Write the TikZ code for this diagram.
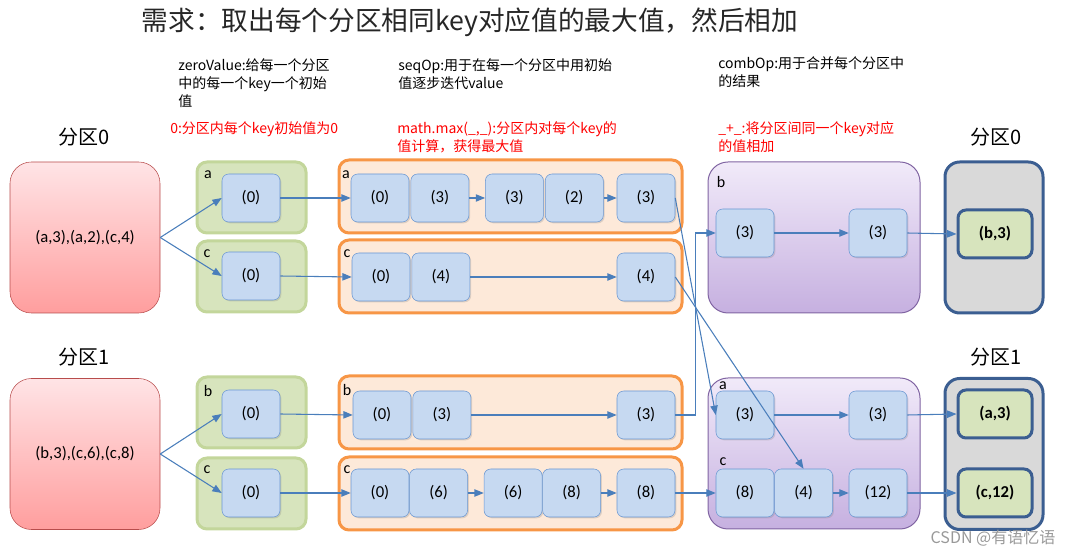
\documentclass[tikz,border=0pt]{standalone}
\usepackage{fontspec}
\setmainfont{Carlito}
\newfontfamily\cjk{Noto Sans CJK SC}
\usetikzlibrary{shadows, arrows.meta, positioning}
\definecolor{valFill}{HTML}{C6D9F1}
\definecolor{valLine}{HTML}{6A97D2}
\definecolor{arrowBlue}{HTML}{4A7EBB}
\definecolor{zeroFill}{HTML}{D7E4BD}
\definecolor{zeroLine}{HTML}{C3D69B}
\definecolor{seqFill}{HTML}{FDE9D9}
\definecolor{seqLine}{HTML}{F79646}
\definecolor{combLine}{HTML}{8064A2}
\definecolor{combTop}{HTML}{F1EAF9}
\definecolor{combBottom}{HTML}{C6B0E0}
\definecolor{inTop}{HTML}{FFE4E6}
\definecolor{inBottom}{HTML}{FF9E9E}
\definecolor{resLine}{HTML}{3B5E91}
\definecolor{noteRed}{HTML}{FF0000}
\newcommand{\valFontSize}{\fontsize{12.5}{15}\selectfont}
\tikzstyle{val}=[draw=valLine, fill=valFill, rounded corners=5pt, minimum width=43.5pt, minimum height=36pt, inner sep=0pt, font=\valFontSize, drop shadow={shadow xshift=1pt, shadow yshift=-1pt, opacity=0.25}]
\tikzstyle{input}=[draw=red!60!black!70, top color=inTop, bottom color=inBottom, rounded corners=16pt, minimum width=112.5pt, minimum height=113.25pt, font=\valFontSize]
\tikzstyle{zeroGroup}=[draw=zeroLine, fill=zeroFill, line width=2.25pt, rounded corners=7.5pt, minimum width=81.75pt, minimum height=53.25pt]
\tikzstyle{seqGroup}=[draw=seqLine, fill=seqFill, line width=2.25pt, rounded corners=7.5pt, minimum width=257.25pt, minimum height=54.75pt]
\tikzstyle{combGroup}=[draw=combLine, top color=combTop, bottom color=combBottom, line width=0.75pt, rounded corners=15pt, minimum width=159pt, minimum height=113.25pt]
\tikzstyle{resGroup}=[draw=resLine, fill=black!15, line width=2.25pt, rounded corners=11pt, minimum width=73.5pt, minimum height=113.25pt]
\tikzstyle{result}=[draw=resLine, fill=zeroFill, line width=2.25pt, rounded corners=6pt, minimum width=55.5pt, minimum height=36pt, inner sep=0pt, font=\valFontSize\bfseries]
\tikzstyle{keyLabel}=[inner sep=0pt, font=\fontsize{12}{14}\selectfont]
\tikzstyle{partLabel}=[inner sep=0pt, font=\cjk\fontsize{15}{18}\selectfont]
\tikzstyle{note}=[anchor=north west, inner sep=0pt, align=left, font=\cjk\fontsize{10.5}{13.5}\selectfont]
\tikzstyle{arrow}=[draw=arrowBlue, line width=0.8pt, -{Triangle[length=7pt, width=5.5pt]}]

\begin{document}
\begin{tikzpicture}[x=0.75pt, y=-0.75pt]
  \useasboundingbox (0,0) rectangle (1076,555);

  % heading and notes
  \node[inner sep=0pt, font=\cjk\fontsize{20}{24}\selectfont, text=black!85] (title) at (470,22) {需求：取出每个分区相同key对应值的最大值，然后相加};
  \node[note] (zeroNote) at (178,58) {zeroValue:给每一个分区\\中的每一个key一个初始\\值};
  \node[note] (seqNote) at (398,58) {seqOp:用于在每一个分区中用初始\\值逐步迭代value};
  \node[note] (combNote) at (718,56) {combOp:用于合并每个分区中\\的结果};
  \node[note, text=noteRed] (zeroRule) at (170,121) {0:分区内每个key初始值为0};
  \node[note, text=noteRed] (seqRule) at (397,121) {math.max(\_,\_):分区内对每个key的\\值计算，获得最大值};
  \node[note, text=noteRed] (combRule) at (718,121) {\_+\_:将分区间同一个key对应\\的值相加};
  \node[partLabel] (inLabelA) at (84,137) {分区0};
  \node[partLabel] (inLabelB) at (84,357) {分区1};
  \node[partLabel] (outLabelA) at (996,137) {分区0};
  \node[partLabel] (outLabelB) at (996,357) {分区1};

  % input partitions
  \node[input] (p0) at (85,237.5) {(a,3),(a,2),(c,4)};
  \node[input] (p1) at (85,454) {(b,3),(c,6),(c,8)};

  % zeroValue
  \node[zeroGroup] (z0aBox) at (251.5,197.5) {};
  \node[zeroGroup] (z0cBox) at (251.5,276.5) {};
  \node[zeroGroup] (z1bBox) at (251.5,412.5) {};
  \node[zeroGroup] (z1cBox) at (251.5,493.5) {};
  \node[keyLabel] (z0aKey) at (208,175) {a};
  \node[keyLabel] (z0cKey) at (207,254) {c};
  \node[keyLabel] (z1bKey) at (208,391) {b};
  \node[keyLabel] (z1cKey) at (207,470) {c};
  \node[val] (z0a) at (251,198) {(0)};
  \node[val] (z0c) at (251,276) {(0)};
  \node[val] (z1b) at (251,414) {(0)};
  \node[val] (z1c) at (251,493) {(0)};

  % seqOp
  \node[seqGroup] (s0aBox) at (510.5,196.5) {};
  \node[seqGroup] (s0cBox) at (510.5,276.5) {};
  \node[seqGroup] (s1bBox) at (510.5,412.5) {};
  \node[seqGroup] (s1cBox) at (510.5,493.5) {};
  \node[keyLabel] (s0aKey) at (346,175) {a};
  \node[keyLabel] (s0cKey) at (347,254) {c};
  \node[keyLabel] (s1bKey) at (347,390) {b};
  \node[keyLabel] (s1cKey) at (347,470) {c};
  \node[val] (s0a1) at (380,198) {(0)};
  \node[val, right=1pt of s0a1] (s0a2) {(3)};
  \node[val, right=12pt of s0a2] (s0a3) {(3)};
  \node[val, right=1pt of s0a3] (s0a4) {(2)};
  \node[val] (s0a5) at (646,198) {(3)};
  \node[val] (s0c1) at (381,277) {(0)};
  \node[val, right=1pt of s0c1] (s0c2) {(4)};
  \node[val] (s0c3) at (646,277) {(4)};
  \node[val] (s1b1) at (382,415) {(0)};
  \node[val, right=1pt of s1b1] (s1b2) {(3)};
  \node[val] (s1b3) at (646,415) {(3)};
  \node[val] (s1c1) at (380,493) {(0)};
  \node[val, right=0pt of s1c1] (s1c2) {(6)};
  \node[val, right=12pt of s1c2] (s1c3) {(6)};
  \node[val, right=0pt of s1c3] (s1c4) {(8)};
  \node[val] (s1c5) at (646,493) {(8)};

  % combOp
  \node[combGroup] (c0Box) at (814,237.5) {};
  \node[combGroup] (c1Box) at (814,453.5) {};
  \node[keyLabel] (c0bKey) at (721,182) {b};
  \node[keyLabel] (c1aKey) at (723,386) {a};
  \node[keyLabel] (c1cKey) at (723,462) {c};
  \node[val] (cb1) at (745,233) {(3)};
  \node[val] (cb2) at (878,233) {(3)};
  \node[val] (ca1) at (745,415) {(3)};
  \node[val] (ca2) at (878,415) {(3)};
  \node[val] (cc1) at (745,493) {(8)};
  \node[val, right=0pt of cc1] (cc2) {(4)};
  \node[val] (cc3) at (878,493) {(12)};

  % results
  \node[resGroup] (r0Box) at (994,237.5) {};
  \node[resGroup] (r1Box) at (994,454) {};
  \node[result] (rb) at (995,234) {(b,3)};
  \node[result] (ra) at (995,414) {(a,3)};
  \node[result] (rc) at (995,493) {(c,12)};

  % arrows
  \foreach \from/\to in {p0/z0a, p0/z0c, p1/z1b, p1/z1c,
      z0a/s0a1, z0c/s0c1, z1b/s1b1, z1c/s1c1,
      s0a2/s0a3, s0a4/s0a5, s0c2/s0c3, s1b2/s1b3, s1c2/s1c3, s1c4/s1c5,
      s0a5/ca1, s1c5/cc1,
      cb1/cb2, ca1/ca2, cc2/cc3, cb2/rb, ca2/ra, cc3/rc}
    \draw[arrow] (\from.east) -- (\to.west);
  \draw[arrow] (s1b3.east) -- ++(20,0) |- (cb1.west);
  \draw[arrow] (s0c3.east) -- (cc2.north);

  \node[inner sep=0pt, font=\cjk\fontsize{12}{14}\selectfont, text=black!40] (mark) at (993,538) {CSDN @有语忆语};
\end{tikzpicture}
\end{document}
